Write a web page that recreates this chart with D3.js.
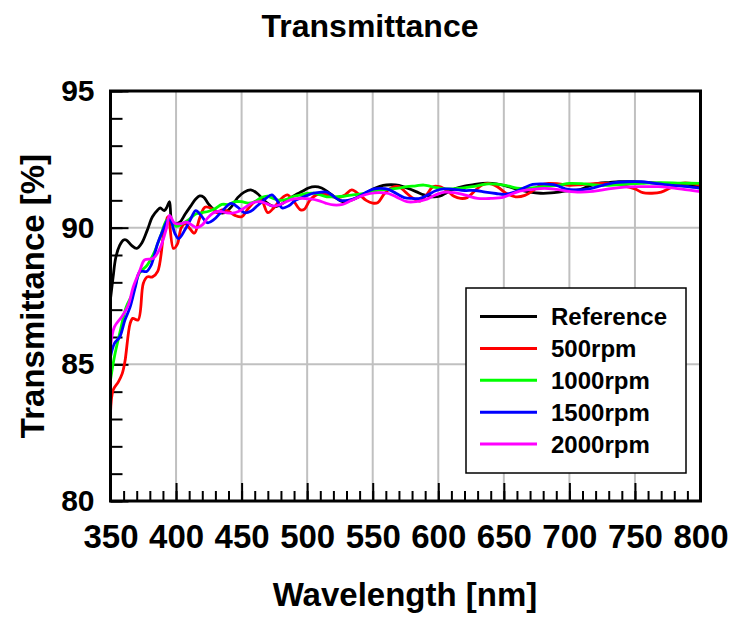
<!DOCTYPE html>
<html>
<head>
<meta charset="utf-8">
<script src="https://cdn.jsdelivr.net/npm/d3@7"></script>
<style>
  html, body { margin: 0; padding: 0; background: #fff; }
  svg { display: block; font-family: "Liberation Sans", Arial, sans-serif; }
</style>
</head>
<body>
<svg id="chart" width="744" height="621"></svg>
<script>
// ---- data ----
const seriesNames = ["Reference", "500rpm", "1000rpm", "1500rpm", "2000rpm"];
const seriesColors = ["#000000", "#ff0000", "#00ff00", "#0000ff", "#ff00ff"];

const refWl = [350,352,354,357,360,362,366,370,374,378,382,386,388,391,393,395,397,400,403,407,411,415,418,421,425,429,433,437,442,447,452,457,462,467,472,476,481,486,491,496,501,506,511,516,521,527,533,540,546,552,558,564,570,576,583,589,595,601,607,613,620,627,634,641,648,655,662,670,678,686,694,700,707,714,722,730,738,748,758,768,778,790,800];
const refT  = [87.4,88.2,88.9,89.35,89.55,89.55,89.35,89.24,89.45,89.9,90.4,90.65,90.72,90.62,90.75,90.95,90.2,90.15,90.2,90.5,90.78,91.05,91.16,91.12,90.85,90.65,90.55,90.55,90.75,91.1,91.3,91.38,91.25,91.0,90.82,90.77,90.88,91.05,91.2,91.32,91.45,91.5,91.45,91.3,91.12,90.95,91.0,91.15,91.3,91.45,91.55,91.57,91.55,91.45,91.32,91.2,91.13,91.15,91.3,91.43,91.52,91.57,91.62,91.62,91.57,91.48,91.38,91.3,91.26,91.27,91.32,91.36,91.38,91.5,91.62,91.65,91.68,91.68,91.66,91.63,91.6,91.58,91.5];

const r500Wl = [350,352,356,359,361,365,367,371,375,378,382,386,391,394,398,401,404,407,410,414,418,422,427,431,435,440,445,450,455,460,465,470,475,480,485,490,495,498,502,507,512,518,524,529,534,540,545,550,554,559,565,570,575,580,586,591,596,601,607,612,617,622,628,633,638,645,652,659,666,672,678,684,692,700,710,722,735,744,750,756,763,770,777,785,793,800];
const r500T  = [83.2,84.06,84.36,84.67,85.1,86.5,86.68,86.62,87.96,88.2,88.2,88.4,89.93,90.4,89.24,89.4,90.0,90.15,90.0,89.8,90.35,90.75,90.7,90.55,90.65,90.6,90.45,90.4,90.7,90.95,91.0,90.55,90.75,91.05,91.2,90.95,90.65,90.68,91.0,91.2,91.25,91.15,91.1,91.2,91.38,91.2,91.0,90.9,90.92,91.25,91.48,91.5,91.3,91.1,90.97,91.2,91.5,91.5,91.35,91.15,91.07,91.1,91.35,91.55,91.62,91.5,91.25,91.13,91.18,91.35,91.55,91.62,91.6,91.55,91.58,91.62,91.6,91.5,91.42,91.28,91.26,91.3,91.45,91.62,91.62,91.55];

const r1000Wl = [350,353,357,362,367,372,378,383,388,393,396,400,405,410,415,420,425,430,435,440,445,450,455,460,465,470,475,480,485,490,495,500,505,510,515,521,528,535,545,552,558,565,571,576,583,589,595,602,610,618,626,638,650,660,668,676,684,692,700,712,725,740,755,770,785,800];
const r1000T  = [84.43,85.28,86.13,87.1,87.6,88.33,88.63,89.06,89.67,90.28,90.3,90.05,90.15,90.3,90.5,90.55,90.6,90.7,90.85,90.85,90.95,90.95,90.9,90.95,91.1,91.15,91.05,91.0,91.05,91.15,91.2,91.25,91.26,91.2,91.13,91.13,91.15,91.2,91.26,91.35,91.38,91.42,91.46,91.5,91.53,91.56,91.5,91.44,91.42,91.45,91.5,91.6,91.56,91.45,91.44,91.48,91.52,91.56,91.62,91.6,91.55,91.58,91.62,91.65,91.63,91.62];

const r1500Wl = [350,353,357,361,365,369,372.5,377.6,381,386,390,394,396,399,402,407,411,415,419,424,429,435,442,447,452,457,462,468,473,477,481,486,491,496,501,505,511,515,520,525,531,538,545,551,556,562,568,574,580,586,592,598,604,612,620,628,636,644,651,658,665,672,680,690,697,705,715,726,735,744,755,765,778,790,800];
const r1500T  = [85.28,85.77,86.0,86.62,87.1,87.84,88.4,88.4,88.63,89.43,89.9,90.3,90.25,89.8,89.6,89.94,90.3,90.62,90.45,90.18,90.3,90.6,90.89,90.75,90.55,90.6,90.8,91.05,91.2,91.0,90.72,90.8,91.0,91.1,91.2,91.26,91.3,91.3,91.15,91.0,91.0,91.1,91.3,91.42,91.44,91.4,91.25,91.1,91.07,91.07,91.2,91.35,91.42,91.4,91.36,91.36,91.3,91.25,91.22,91.3,91.45,91.58,91.6,91.55,91.42,91.38,91.42,91.56,91.65,91.68,91.68,91.62,91.55,91.5,91.44];

const r2000Wl = [350,353,358.6,363.6,367.4,372.5,376,382.7,387.7,392.8,395,399,404,408,412,416,420,424,428,433,438,443,448,453,458,463,468,473,478,484,490,496,502,508,514,520,527,534,541,548,555,562,569,576,583,590,598,605,612,620,630,640,650,661,672,681,690,698,708,718,730,742,755,768,780,790,800];
const r2000T  = [85.64,86.37,86.74,87.17,87.84,88.45,88.82,88.88,89.24,90.0,90.45,90.16,90.15,90.2,90.1,90.0,90.1,90.35,90.53,90.6,90.55,90.53,90.6,90.75,90.9,90.95,90.9,90.8,90.82,90.95,91.05,91.07,91.05,91.0,90.9,90.83,90.85,91.0,91.15,91.25,91.28,91.25,91.1,90.95,90.95,91.02,91.2,91.3,91.28,91.2,91.07,91.07,91.12,91.32,91.4,91.44,91.4,91.34,91.3,91.33,91.42,91.48,91.5,91.5,91.45,91.38,91.32];

const xMajorTicks = [350,400,450,500,550,600,650,700,750,800];
const yMajorTicks = [80,85,90,95];

const seriesWl = [refWl, r500Wl, r1000Wl, r1500Wl, r2000Wl];
const seriesT  = [refT, r500T, r1000T, r1500T, r2000T];

// ---- layout ----
const L = 110.5, R = 700.5, T = 91, B = 501;

const svg = d3.select("#chart");
const x = d3.scaleLinear().domain([350, 800]).range([L, R]);
const y = d3.scaleLinear().domain([80, 95]).range([B, T]);

// gridlines
const grid = svg.append("g").attr("stroke", "#c0c0c0").attr("stroke-width", 2);
grid.selectAll("line.v").data(xMajorTicks.filter(d => d > 350 && d < 800)).join("line")
  .attr("x1", d => x(d)).attr("x2", d => x(d)).attr("y1", T).attr("y2", B);
grid.selectAll("line.h").data(yMajorTicks.filter(d => d > 80 && d < 95)).join("line")
  .attr("x1", L).attr("x2", R).attr("y1", d => y(d)).attr("y2", d => y(d));

// minor / major ticks (inward)
const xMinor = svg.append("g").attr("transform", `translate(0,${B})`)
  .call(d3.axisBottom(x).tickValues(d3.range(350, 801, 10)).tickSize(-10).tickFormat(""));
const xMajor = svg.append("g").attr("transform", `translate(0,${B})`)
  .call(d3.axisBottom(x).tickValues(xMajorTicks).tickSize(-18).tickPadding(24).tickFormat(d3.format("d")));
const yMinor = svg.append("g").attr("transform", `translate(${L},0)`)
  .call(d3.axisLeft(y).tickValues(d3.range(80, 96, 1)).tickSize(-12).tickFormat(""));
const yMajor = svg.append("g").attr("transform", `translate(${L},0)`)
  .call(d3.axisLeft(y).tickValues(yMajorTicks).tickSize(-18).tickPadding(16).tickFormat(d3.format("d")));

[xMinor, xMajor, yMinor, yMajor].forEach(g => {
  g.select(".domain").remove();
  g.selectAll(".tick line").attr("stroke", "#000").attr("stroke-width", 2);
});
xMajor.selectAll(".tick text").attr("font-size", 33).attr("font-weight", "bold").attr("fill", "#000")
  .attr("font-family", "Liberation Sans, Arial, sans-serif");
yMajor.selectAll(".tick text").attr("font-size", 30).attr("font-weight", "bold").attr("fill", "#000")
  .attr("font-family", "Liberation Sans, Arial, sans-serif");

// data lines
svg.append("clipPath").attr("id", "clip").append("rect")
  .attr("x", L).attr("y", T).attr("width", R - L).attr("height", B - T);
const line = d3.line().x(d => x(d[0])).y(d => y(d[1])).curve(d3.curveCatmullRom.alpha(0.5));
const lines = svg.append("g").attr("clip-path", "url(#clip)");
seriesNames.forEach((name, i) => {
  const pts = seriesWl[i].map((w, k) => [w, seriesT[i][k]]);
  lines.append("path").datum(pts)
    .attr("d", line).attr("fill", "none")
    .attr("stroke", seriesColors[i]).attr("stroke-width", 2.8)
    .attr("stroke-linejoin", "round");
});

// frame
svg.append("rect").attr("x", L).attr("y", T).attr("width", R - L).attr("height", B - T)
  .attr("fill", "none").attr("stroke", "#000").attr("stroke-width", 3);

// legend
const leg = svg.append("g");
leg.append("rect").attr("x", 466).attr("y", 288).attr("width", 220).attr("height", 185)
  .attr("fill", "#fff").attr("stroke", "#000").attr("stroke-width", 1.5);
const rowY = d3.scaleLinear().domain([0, 4]).range([316.5, 444]);
seriesNames.forEach((name, i) => {
  leg.append("line").attr("x1", 480).attr("x2", 537).attr("y1", rowY(i)).attr("y2", rowY(i))
    .attr("stroke", seriesColors[i]).attr("stroke-width", 3);
  leg.append("text").attr("x", 551).attr("y", rowY(i)).attr("dy", "0.36em")
    .attr("font-size", 24).attr("font-weight", "bold").text(name);
});

// titles
svg.append("text").attr("x", 370).attr("y", 37).attr("text-anchor", "middle")
  .attr("font-size", 32).attr("font-weight", "bold").text("Transmittance");
svg.append("text").attr("x", 405).attr("y", 606).attr("text-anchor", "middle")
  .attr("font-size", 33).attr("font-weight", "bold").text("Wavelength [nm]");
svg.append("text").attr("transform", `translate(44,296) rotate(-90)`).attr("text-anchor", "middle")
  .attr("font-size", 33).attr("font-weight", "bold").text("Transmittance [%]");
</script>
</body>
</html>
